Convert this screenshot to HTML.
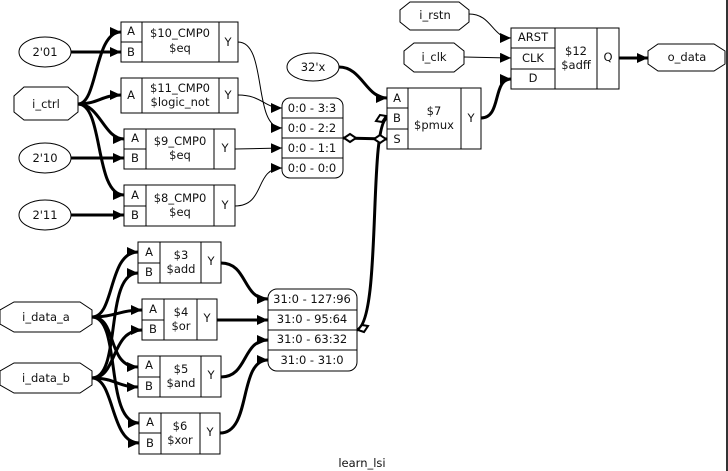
<!DOCTYPE html>
<html><head><meta charset="utf-8"><style>
html,body{margin:0;padding:0;background:#fff;}
svg{display:block;}
text{font-family:"DejaVu Sans","Liberation Sans",sans-serif;font-size:11.5px;fill:#111;text-anchor:middle;dominant-baseline:central;}
.b{fill:none;stroke:#000;stroke-width:1;}
.t{fill:none;stroke:#000;stroke-width:3;}
.n{fill:none;stroke:#000;stroke-width:1;}
</style></head><body>
<svg width="728" height="471" viewBox="0 0 728 471" xmlns="http://www.w3.org/2000/svg">
<defs>
<marker id="ah" markerUnits="userSpaceOnUse" markerWidth="12" markerHeight="10" refX="11" refY="5" orient="auto"><path d="M0,0 L11,5 L0,10 z" fill="#000"/></marker>
</defs>
<rect x="726" y="0" width="2" height="471" fill="#333"/>

<ellipse cx="45" cy="52" rx="26" ry="15" class="b"/><text x="45" y="52">2'01</text>
<polygon points="24,87 68,87 78,96 78,112 68,120 24,120 14,112 14,96" class="b" stroke="#777"/><text x="46" y="104">i_ctrl</text>
<ellipse cx="45" cy="158" rx="26" ry="15" class="b"/><text x="45" y="158">2'10</text>
<ellipse cx="45" cy="215" rx="26" ry="15" class="b"/><text x="45" y="215">2'11</text>

<rect x="121" y="22" width="117" height="40" class="b"/>
<line x1="142" y1="22" x2="142" y2="62" class="b"/><line x1="219" y1="22" x2="219" y2="62" class="b"/><line x1="121" y1="42" x2="142" y2="42" class="b"/>
<text x="131" y="31">A</text><text x="131" y="52">B</text><text x="180" y="33">$10_CMP0</text><text x="180" y="48">$eq</text><text x="228" y="42">Y</text>
<rect x="121" y="78" width="117" height="35" class="b"/>
<line x1="142" y1="78" x2="142" y2="113" class="b"/><line x1="219" y1="78" x2="219" y2="113" class="b"/>
<text x="131" y="95">A</text><text x="180" y="88">$11_CMP0</text><text x="180" y="102">$logic_not</text><text x="228" y="95">Y</text>
<rect x="124" y="129" width="111" height="40" class="b"/>
<line x1="146" y1="129" x2="146" y2="169" class="b"/><line x1="214" y1="129" x2="214" y2="169" class="b"/><line x1="124" y1="149" x2="146" y2="149" class="b"/>
<text x="135" y="138">A</text><text x="135" y="158">B</text><text x="180" y="141">$9_CMP0</text><text x="180" y="155">$eq</text><text x="225" y="148">Y</text>
<rect x="124" y="185" width="111" height="41" class="b"/>
<line x1="146" y1="185" x2="146" y2="226" class="b"/><line x1="214" y1="185" x2="214" y2="226" class="b"/><line x1="124" y1="206" x2="146" y2="206" class="b"/>
<text x="135" y="195">A</text><text x="135" y="215">B</text><text x="180" y="198">$8_CMP0</text><text x="180" y="212">$eq</text><text x="225" y="205">Y</text>

<rect x="282" y="98" width="61" height="80" rx="8" class="b"/>
<line x1="282" y1="118" x2="343" y2="118" class="b"/><line x1="282" y1="138" x2="343" y2="138" class="b"/><line x1="282" y1="158" x2="343" y2="158" class="b"/>
<text x="312" y="108">0:0 - 3:3</text><text x="312" y="128">0:0 - 2:2</text><text x="312" y="148">0:0 - 1:1</text><text x="312" y="168">0:0 - 0:0</text>

<ellipse cx="313" cy="67" rx="26" ry="14" class="b"/><text x="313" y="67">32'x</text>
<rect x="387" y="88" width="94" height="61" class="b"/>
<line x1="408" y1="88" x2="408" y2="149" class="b"/><line x1="461" y1="88" x2="461" y2="149" class="b"/>
<line x1="387" y1="108" x2="408" y2="108" class="b"/><line x1="387" y1="129" x2="408" y2="129" class="b"/>
<text x="397" y="98">A</text><text x="397" y="118">B</text><text x="397" y="139">S</text>
<text x="434" y="111">$7</text><text x="434" y="125">$pmux</text><text x="471" y="118">Y</text>

<polygon points="410,2 459,2 469,10 469,22 459,30 410,30 400,22 400,10" class="b" stroke="#777"/><text x="435" y="15">i_rstn</text>
<polygon points="414,43 454,43 464,51 464,64 454,72 414,72 404,64 404,51" class="b" stroke="#777"/><text x="434" y="57">i_clk</text>
<rect x="511" y="28" width="108" height="61" class="b"/>
<line x1="555" y1="28" x2="555" y2="89" class="b"/><line x1="597" y1="28" x2="597" y2="89" class="b"/>
<line x1="511" y1="48" x2="555" y2="48" class="b"/><line x1="511" y1="69" x2="555" y2="69" class="b"/>
<text x="533" y="37">ARST</text><text x="533" y="58">CLK</text><text x="533" y="78">D</text>
<text x="576" y="51">$12</text><text x="576" y="65">$adff</text><text x="608" y="57">Q</text>
<polygon points="658,44 714,44 725,51 725,64 714,71 658,71 648,64 648,51" class="b" stroke="#777"/><text x="687" y="57">o_data</text>

<polygon points="14,302 80,302 92,310 92,324 80,332 14,332 0,324 0,310" class="b" stroke="#777"/><text x="46" y="317">i_data_a</text>
<polygon points="14,363 80,363 92,371 92,385 80,393 14,393 0,385 0,371" class="b" stroke="#777"/><text x="46" y="378">i_data_b</text>

<rect x="138" y="242" width="83" height="41" class="b"/>
<line x1="160" y1="242" x2="160" y2="283" class="b"/><line x1="201" y1="242" x2="201" y2="283" class="b"/><line x1="138" y1="263" x2="160" y2="263" class="b"/>
<text x="149" y="252">A</text><text x="149" y="272">B</text><text x="181" y="255">$3</text><text x="181" y="269">$add</text><text x="211" y="261">Y</text>

<rect x="142" y="299" width="75" height="41" class="b"/>
<line x1="164" y1="299" x2="164" y2="340" class="b"/><line x1="197" y1="299" x2="197" y2="340" class="b"/><line x1="142" y1="320" x2="164" y2="320" class="b"/>
<text x="153" y="309">A</text><text x="153" y="329">B</text><text x="181" y="312">$4</text><text x="181" y="326">$or</text><text x="207" y="318">Y</text>

<rect x="138" y="356" width="83" height="41" class="b"/>
<line x1="160" y1="356" x2="160" y2="397" class="b"/><line x1="201" y1="356" x2="201" y2="397" class="b"/><line x1="138" y1="377" x2="160" y2="377" class="b"/>
<text x="149" y="365">A</text><text x="149" y="386">B</text><text x="181" y="369">$5</text><text x="181" y="383">$and</text><text x="211" y="375">Y</text>

<rect x="139" y="413" width="81" height="41" class="b"/>
<line x1="161" y1="413" x2="161" y2="454" class="b"/><line x1="200" y1="413" x2="200" y2="454" class="b"/><line x1="139" y1="433" x2="161" y2="433" class="b"/>
<text x="150" y="422">A</text><text x="150" y="443">B</text><text x="180" y="426">$6</text><text x="180" y="440">$xor</text><text x="210" y="432">Y</text>

<rect x="268" y="289" width="89" height="82" rx="9" class="b"/>
<line x1="268" y1="310" x2="357" y2="310" class="b"/><line x1="268" y1="330" x2="357" y2="330" class="b"/><line x1="268" y1="350" x2="357" y2="350" class="b"/>
<text x="312" y="299">31:0 - 127:96</text><text x="312" y="319">31:0 - 95:64</text><text x="312" y="339">31:0 - 63:32</text><text x="312" y="360">31:0 - 31:0</text>

<text x="362" y="463">learn_lsi</text>

<path d="M71,52 L121,52" class="t" marker-end="url(#ah)"/>
<path d="M78,104 C98,104 94,32 121,32" class="t" marker-end="url(#ah)"/>
<path d="M78,104 C98,104 102,95 121,95" class="t" marker-end="url(#ah)"/>
<path d="M78,104 C100,104 104,139 124,139" class="t" marker-end="url(#ah)"/>
<path d="M78,104 C104,104 94,195 124,195" class="t" marker-end="url(#ah)"/>
<path d="M71,158 L124,158" class="t" marker-end="url(#ah)"/>
<path d="M71,215 L124,215" class="t" marker-end="url(#ah)"/>
<path d="M238,42 C268,42 252,128 282,128" class="n" marker-end="url(#ah)"/>
<path d="M238,95 C262,95 264,108 282,108" class="n" marker-end="url(#ah)"/>
<path d="M235,149 L282,148" class="n" marker-end="url(#ah)"/>
<path d="M235,206 C266,206 254,168 282,168" class="n" marker-end="url(#ah)"/>
<path d="M343,138 L387,139" class="t"/>
<path d="M339,67 C362,67 366,98 387,98" class="t" marker-end="url(#ah)"/>
<path d="M357,330 C382,320 368,126 387,118" class="t"/>
<path d="M481,118 C502,118 492,79 511,79" class="t" marker-end="url(#ah)"/>
<path d="M469,14 C492,14 492,38 511,38" class="n" marker-end="url(#ah)"/>
<path d="M464,57 L511,58" class="n" marker-end="url(#ah)"/>
<path d="M619,58 L648,58" class="t" marker-end="url(#ah)"/>
<polygon points="344,138 350,134 356,138 350,142" fill="#fff" stroke="#000" stroke-width="2"/>
<polygon points="374,139 380,135 386,139 380,143" fill="#fff" stroke="#000" stroke-width="2"/>
<polygon points="376,121 380,115 386,116 382,122" fill="#fff" stroke="#000" stroke-width="2"/>
<polygon points="358,330 362,325 368,326 364,332" fill="#fff" stroke="#000" stroke-width="2"/>

<path d="M92,317 C115,317 108,252 138,252" class="t" marker-end="url(#ah)"/>
<path d="M92,317 C115,317 120,310 142,310" class="t" marker-end="url(#ah)"/>
<path d="M92,317 C118,317 106,367 138,367" class="t" marker-end="url(#ah)"/>
<path d="M92,317 C122,317 104,423 139,423" class="t" marker-end="url(#ah)"/>
<path d="M92,378 C122,378 104,273 138,273" class="t" marker-end="url(#ah)"/>
<path d="M92,378 C118,378 110,330 142,330" class="t" marker-end="url(#ah)"/>
<path d="M92,378 C115,378 118,387 138,387" class="t" marker-end="url(#ah)"/>
<path d="M92,378 C115,378 110,443 139,443" class="t" marker-end="url(#ah)"/>
<path d="M221,263 C248,263 242,299 268,299" class="t" marker-end="url(#ah)"/>
<path d="M217,320 L268,320" class="t" marker-end="url(#ah)"/>
<path d="M221,377 C248,377 242,340 268,340" class="t" marker-end="url(#ah)"/>
<path d="M220,433 C252,433 238,360 268,360" class="t" marker-end="url(#ah)"/>
</svg>
</body></html>
